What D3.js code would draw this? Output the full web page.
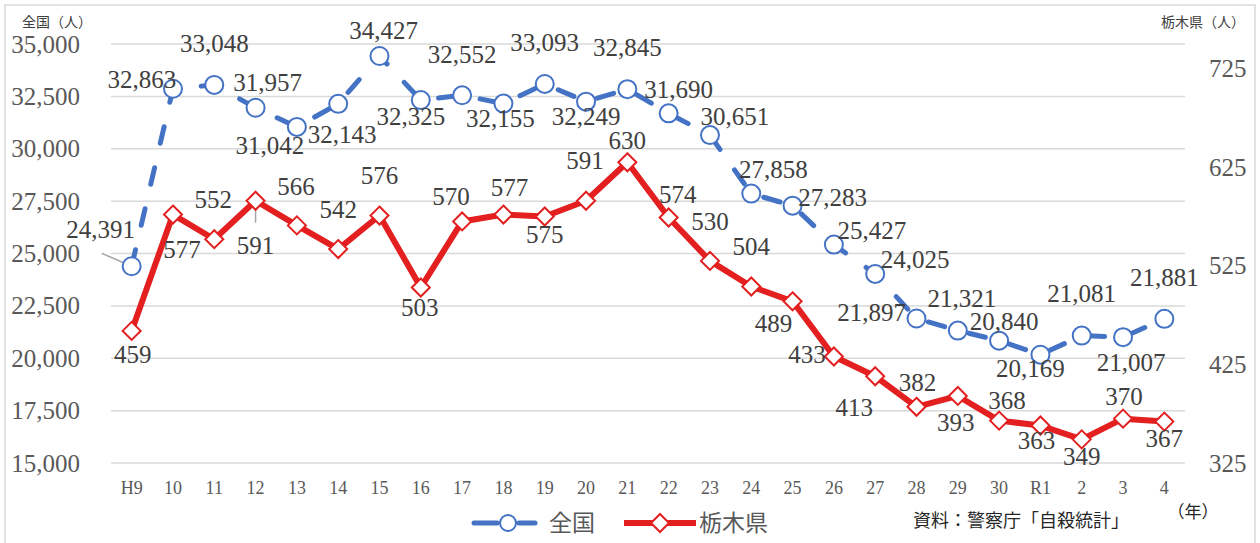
<!DOCTYPE html>
<html>
<head>
<meta charset="utf-8">
<script src="https://cdn.jsdelivr.net/npm/d3@7"></script>
<style>
body { margin: 0; background: #fff; }
</style>
</head>
<body>
<div id="chart"></div>
<script>
// 年（カテゴリ）
var years = ["H9", "10", "11", "12", "13", "14", "15", "16", "17", "18", "19", "20", "21",
             "22", "23", "24", "25", "26", "27", "28", "29", "30", "R1", "2", "3", "4"];

// 全国の自殺者数（人）
var zenkoku = [24391, 32863, 33048, 31957, 31042, 32143, 34427, 32325, 32552, 32155, 33093, 32249, 32845,
               31690, 30651, 27858, 27283, 25427, 24025, 21897, 21321, 20840, 20169, 21081, 21007, 21881];

// 栃木県の自殺者数（人）
var tochigi = [459, 577, 552, 591, 566, 542, 576, 503, 570, 577, 575, 591, 630,
               574, 530, 504, 489, 433, 413, 382, 393, 368, 363, 349, 370, 367];

var leftTicks = [15000, 17500, 20000, 22500, 25000, 27500, 30000, 32500, 35000];
var rightTicks = [325, 425, 525, 625, 725];

// データラベルの位置（点からのずれ, px）
var zenkokuLabelPos = [[-31, -37], [-31, -10], [0, -42], [12, -26], [-27, 18], [4, 30], [4, -26],
                       [-10, 16], [0, -41], [-3, 15], [0, -42], [0, 15], [0, -42], [10, -24],
                       [25, -19], [22, -24], [40, -8], [38, -14], [40, -15], [-45, -6], [4, -32],
                       [5, -19], [-10, 14], [0, -42], [8, 25], [0, -42]];
var tochigiLabelPos = [[1, 23], [9, 35], [-1, -40], [0, 44], [-1, -39], [0, -40], [0, -40],
                       [-1, 20], [-11, -25], [6, -27], [0, 18], [-1, -41], [0, -22], [9, -23],
                       [0, -40], [0, -40], [-19, 22], [-27, -2], [-21, 31], [1, -25], [-2, 26],
                       [8, -20], [-4, 15], [0, 17], [1, -22], [0, 17]];

var W = 1260, H = 543;
var plot = { left: 111, right: 1185, top: 44, bottom: 463 };

var blue = "#4472C4", red = "#E31F1F", grid = "#D9D9D9", tickColor = "#595959", labelColor = "#404040";
var serif = "'Liberation Serif', 'Times New Roman', serif";
var gothic = "'Noto Sans CJK JP', 'Noto Sans', sans-serif";

var svg = d3.select("#chart").append("svg")
    .attr("width", W)
    .attr("height", H);

// 外枠
svg.append("rect")
    .attr("x", 5).attr("y", 5)
    .attr("width", W - 10).attr("height", H + 10)
    .attr("fill", "none")
    .attr("stroke", grid)
    .attr("stroke-width", 1.5);

var x = d3.scaleBand().domain(years).range([plot.left, plot.right]);
var cx = function (d) { return x(d) + x.bandwidth() / 2; };
var yL = d3.scaleLinear().domain([15000, 35000]).range([plot.bottom, plot.top]);
var yR = d3.scaleLinear().domain([325, 750]).range([plot.bottom, plot.top]);

// 目盛線
svg.append("g").selectAll("line").data(leftTicks).enter().append("line")
    .attr("x1", plot.left).attr("x2", plot.right)
    .attr("y1", function (d) { return yL(d); })
    .attr("y2", function (d) { return yL(d); })
    .attr("stroke", grid)
    .attr("stroke-width", 1.5);

// 左軸
var gL = svg.append("g")
    .attr("transform", "translate(" + plot.left + ",0)")
    .call(d3.axisLeft(yL).tickValues(leftTicks).tickSize(0).tickPadding(31).tickFormat(d3.format(",")));
// 右軸
var gR = svg.append("g")
    .attr("transform", "translate(" + plot.right + ",0)")
    .call(d3.axisRight(yR).tickValues(rightTicks).tickSize(0).tickPadding(24));
// 下軸
var gB = svg.append("g")
    .attr("transform", "translate(0," + plot.bottom + ")")
    .call(d3.axisBottom(x).tickSize(0).tickPadding(18));

[gL, gR].forEach(function (g) {
    g.select(".domain").remove();
    g.selectAll("text").attr("font-family", serif).attr("font-size", "25px").attr("fill", tickColor);
});
gB.select(".domain").remove();
gB.selectAll("text").attr("font-family", serif).attr("font-size", "18px").attr("fill", tickColor);

// 軸タイトル
svg.append("text").attr("x", 22).attr("y", 22).attr("dy", "0.35em")
    .attr("font-family", gothic).attr("font-size", "14px").attr("fill", "#404040")
    .text("全国（人）");
svg.append("text").attr("x", 1245).attr("y", 22).attr("dy", "0.35em")
    .attr("text-anchor", "end")
    .attr("font-family", gothic).attr("font-size", "14px").attr("fill", "#404040")
    .text("栃木県（人）");

// 折れ線：栃木県
var lineR = d3.line()
    .x(function (d, i) { return cx(years[i]); })
    .y(function (d) { return yR(d); });
svg.append("path").datum(tochigi)
    .attr("d", lineR)
    .attr("fill", "none")
    .attr("stroke", red)
    .attr("stroke-width", 6)
    .attr("stroke-linejoin", "round");

// 折れ線：全国（破線）
var lineL = d3.line()
    .x(function (d, i) { return cx(years[i]); })
    .y(function (d) { return yL(d); });
svg.append("path").datum(zenkoku)
    .attr("d", lineL)
    .attr("fill", "none")
    .attr("stroke", blue)
    .attr("stroke-width", 5)
    .attr("stroke-linecap", "round")
    .attr("stroke-dasharray", "17 25.1");

// 引き出し線
svg.append("line")
    .attr("x1", cx(years[0]) - 30).attr("y1", yL(zenkoku[0]) - 13)
    .attr("x2", cx(years[0])).attr("y2", yL(zenkoku[0]))
    .attr("stroke", "#A6A6A6").attr("stroke-width", 1.5);
svg.append("line")
    .attr("x1", cx(years[3])).attr("y1", yR(tochigi[3]))
    .attr("x2", cx(years[3])).attr("y2", yR(tochigi[3]) + 22)
    .attr("stroke", "#A6A6A6").attr("stroke-width", 1.5);

// マーカー
var diamond = function (s) { return "M0," + (-s) + "L" + s + ",0L0," + s + "L" + (-s) + ",0Z"; };

svg.append("g").selectAll("path").data(tochigi).enter().append("path")
    .attr("d", diamond(9))
    .attr("transform", function (d, i) { return "translate(" + cx(years[i]) + "," + yR(d) + ")"; })
    .attr("fill", "#fff")
    .attr("stroke", red)
    .attr("stroke-width", 2);

svg.append("g").selectAll("circle").data(zenkoku).enter().append("circle")
    .attr("cx", function (d, i) { return cx(years[i]); })
    .attr("cy", function (d) { return yL(d); })
    .attr("r", 9)
    .attr("fill", "#fff")
    .attr("stroke", blue)
    .attr("stroke-width", 2);

// データラベル
svg.append("g").selectAll("text").data(zenkoku).enter().append("text")
    .attr("x", function (d, i) { return cx(years[i]) + zenkokuLabelPos[i][0]; })
    .attr("y", function (d, i) { return yL(d) + zenkokuLabelPos[i][1]; })
    .attr("dy", "0.35em")
    .attr("text-anchor", "middle")
    .attr("font-family", serif).attr("font-size", "25px").attr("fill", labelColor)
    .text(function (d) { return d3.format(",")(d); });

svg.append("g").selectAll("text").data(tochigi).enter().append("text")
    .attr("x", function (d, i) { return cx(years[i]) + tochigiLabelPos[i][0]; })
    .attr("y", function (d, i) { return yR(d) + tochigiLabelPos[i][1]; })
    .attr("dy", "0.35em")
    .attr("text-anchor", "middle")
    .attr("font-family", serif).attr("font-size", "25px").attr("fill", labelColor)
    .text(function (d) { return d; });

// 凡例
var ly = 523;
var leg = svg.append("g");
leg.append("line").attr("x1", 474).attr("x2", 497).attr("y1", ly).attr("y2", ly)
    .attr("stroke", blue).attr("stroke-width", 5).attr("stroke-linecap", "round");
leg.append("line").attr("x1", 519).attr("x2", 535).attr("y1", ly).attr("y2", ly)
    .attr("stroke", blue).attr("stroke-width", 5).attr("stroke-linecap", "round");
leg.append("circle").attr("cx", 508).attr("cy", ly).attr("r", 8)
    .attr("fill", "#fff").attr("stroke", blue).attr("stroke-width", 2);
leg.append("text").attr("x", 549).attr("y", ly).attr("dy", "0.36em")
    .attr("font-family", gothic).attr("font-size", "23px").attr("fill", tickColor)
    .text("全国");
leg.append("line").attr("x1", 624).attr("x2", 696).attr("y1", ly).attr("y2", ly)
    .attr("stroke", red).attr("stroke-width", 6);
leg.append("path").attr("d", diamond(9))
    .attr("transform", "translate(660," + ly + ")")
    .attr("fill", "#fff").attr("stroke", red).attr("stroke-width", 2);
leg.append("text").attr("x", 699).attr("y", ly).attr("dy", "0.36em")
    .attr("font-family", gothic).attr("font-size", "23px").attr("fill", tickColor)
    .text("栃木県");

// 出典・単位
svg.append("text").attr("x", 913).attr("y", 521).attr("dy", "0.36em")
    .attr("font-family", gothic).attr("font-size", "18px").attr("fill", "#262626")
    .text("資料：警察庁「自殺統計」");
svg.append("text").attr("x", 1193).attr("y", 512).attr("dy", "0.36em")
    .attr("text-anchor", "middle")
    .attr("font-family", gothic).attr("font-size", "17px").attr("fill", "#262626")
    .text("（年）");
</script>
</body>
</html>
